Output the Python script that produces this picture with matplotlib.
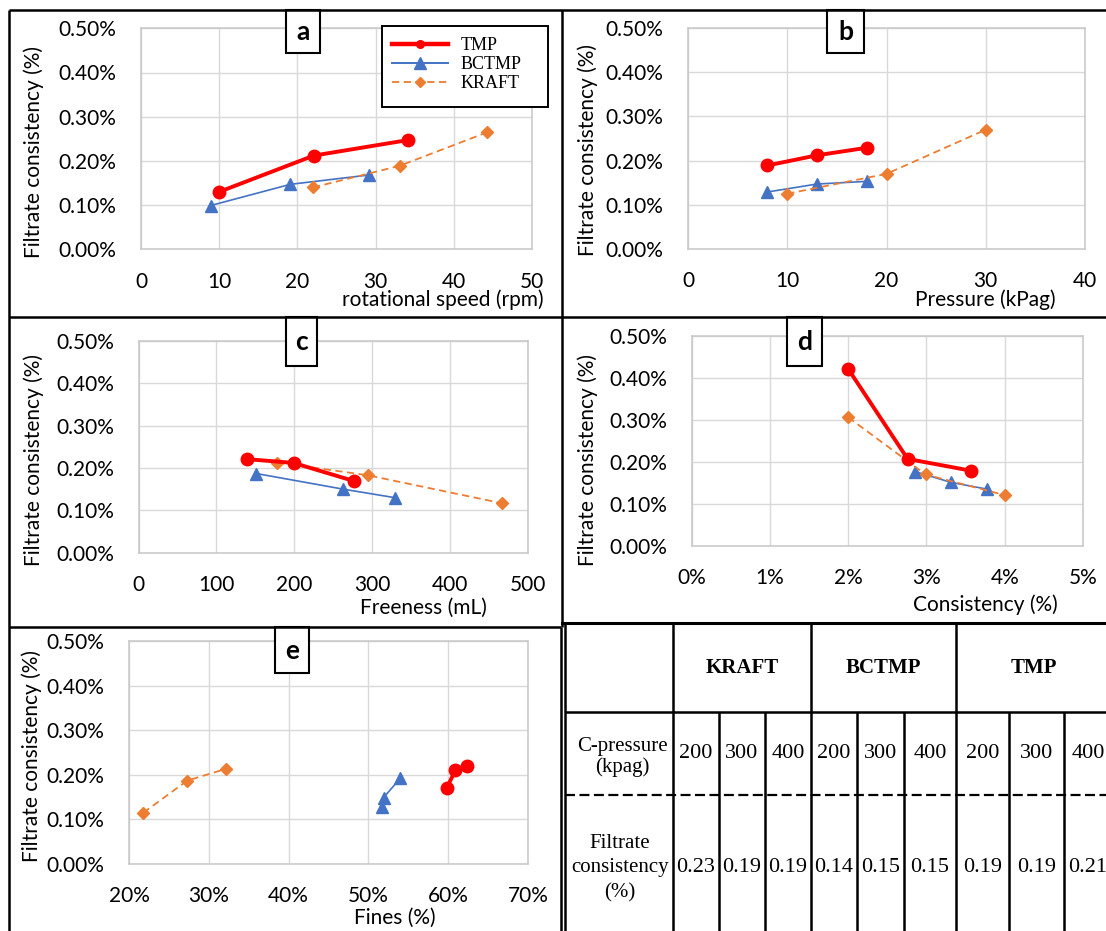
import matplotlib
matplotlib.use("Agg")
import matplotlib.pyplot as plt
from matplotlib.ticker import PercentFormatter, MultipleLocator
from matplotlib.lines import Line2D
from matplotlib.patches import Rectangle

plt.rcParams["font.family"] = ["Lato", "DejaVu Sans"]

W, H = 1106, 931

# values, filtrate consistency in %
# a - rotational speed (rpm)
speed_tmp = [10.0, 22.1, 34.1]
speed_bctmp = [8.9, 19.1, 29.1]
speed_kraft = [22.0, 33.1, 44.3]
fc_speed_tmp = [0.130, 0.212, 0.247]
fc_speed_bctmp = [0.099, 0.147, 0.168]
fc_speed_kraft = [0.140, 0.189, 0.265]

# b - pressure (kPag)
press_tmp = [8, 13, 18]
press_bctmp = [8, 13, 18]
press_kraft = [10, 20, 30]
fc_press_tmp = [0.189, 0.212, 0.229]
fc_press_bctmp = [0.129, 0.147, 0.153]
fc_press_kraft = [0.125, 0.170, 0.270]

# c - freeness (mL)
free_tmp = [139, 199, 277]
free_bctmp = [151, 263, 329]
free_kraft = [178, 294, 466]
fc_free_tmp = [0.221, 0.212, 0.169]
fc_free_bctmp = [0.187, 0.150, 0.130]
fc_free_kraft = [0.213, 0.183, 0.117]

# d - consistency (%)
cons_tmp = [2.0, 2.76, 3.57]
cons_bctmp = [2.85, 3.32, 3.78]
cons_kraft = [2.0, 2.99, 4.0]
fc_cons_tmp = [0.421, 0.207, 0.179]
fc_cons_bctmp = [0.177, 0.151, 0.135]
fc_cons_kraft = [0.306, 0.170, 0.121]

# e - fines (%)
fines_tmp = [59.8, 60.9, 62.4]
fines_bctmp = [51.7, 51.9, 54.0]
fines_kraft = [21.8, 27.3, 32.1]
fc_fines_tmp = [0.170, 0.210, 0.219]
fc_fines_bctmp = [0.128, 0.149, 0.192]
fc_fines_kraft = [0.115, 0.187, 0.213]

# table
pulps = ["KRAFT", "BCTMP", "TMP"]
c_pressures = ["200", "300", "400"]
table_fc = [["0.23", "0.19", "0.19"],
            ["0.14", "0.15", "0.15"],
            ["0.19", "0.19", "0.21"]]

tmp_style = dict(color="#ff0000", lw=2.8, marker="o", ms=9, zorder=4)
bctmp_style = dict(color="#4472c4", lw=1.2, marker="^", ms=9, zorder=2)
kraft_style = dict(color="#ed7d31", lw=1.3, marker="D", ms=5.8, dashes=(4, 2.5), zorder=3)

fig = plt.figure(figsize=(W / 100, H / 100), dpi=100)


def px_axes(left, top, right, bottom):
    return fig.add_axes([left / W, 1 - bottom / H, (right - left) / W, (bottom - top) / H])


def setup(ax, xlim, xstep, xlabel, xlab_pos, ylab_pos, xfmt=None):
    ax.set_xlim(*xlim)
    ax.set_ylim(0, 0.5)
    ax.xaxis.set_major_locator(MultipleLocator(xstep))
    ax.yaxis.set_major_locator(MultipleLocator(0.1))
    ax.yaxis.set_major_formatter(PercentFormatter(100, decimals=2))
    if xfmt is not None:
        ax.xaxis.set_major_formatter(xfmt)
    ax.grid(True, color="#d9d9d9", lw=1)
    ax.set_axisbelow(True)
    for s in ax.spines.values():
        s.set_color("#c8c8c8")
        s.set_linewidth(1.1)
    ax.tick_params(axis="both", length=0, labelsize=15, colors="black")
    ax.tick_params(axis="x", pad=16)
    ax.tick_params(axis="y", pad=17.5)
    ax.set_xlabel(xlabel, fontsize=15)
    ax.set_ylabel("Filtrate consistency (%)", fontsize=15)
    ax.xaxis.set_label_coords(xlab_pos[0] / W, 1 - xlab_pos[1] / H, transform=fig.transFigure)
    ax.yaxis.set_label_coords(ylab_pos[0] / W, 1 - ylab_pos[1] / H, transform=fig.transFigure)
    ax.xaxis.label.set_va("center")
    ax.yaxis.label.set_va("center")


def three(ax, xt, yt, xb, yb, xk, yk):
    ax.plot(xt, yt, **tmp_style)
    ax.plot(xb, yb, **bctmp_style)
    ax.plot(xk, yk, **kraft_style)


ax_a = px_axes(141, 28.3, 532, 249.3)
three(ax_a, speed_tmp, fc_speed_tmp, speed_bctmp, fc_speed_bctmp, speed_kraft, fc_speed_kraft)
setup(ax_a, (0, 50), 10, "rotational speed (rpm)", (443, 300), (34, 152))

ax_b = px_axes(688, 28, 1085, 249)
three(ax_b, press_tmp, fc_press_tmp, press_bctmp, fc_press_bctmp, press_kraft, fc_press_kraft)
setup(ax_b, (0, 40), 10, "Pressure (kPag)", (985, 300), (588, 150))

ax_c = px_axes(138.6, 341, 528, 552.7)
three(ax_c, free_tmp, fc_free_tmp, free_bctmp, fc_free_bctmp, free_kraft, fc_free_kraft)
setup(ax_c, (0, 500), 100, "Freeness (mL)", (423, 608), (34, 460))

ax_d = px_axes(691.6, 335.7, 1083, 546)
three(ax_d, cons_tmp, fc_cons_tmp, cons_bctmp, fc_cons_bctmp, cons_kraft, fc_cons_kraft)
setup(ax_d, (0, 5), 1, "Consistency (%)", (985, 605), (588, 460),
      xfmt=PercentFormatter(100, decimals=0))

ax_e = px_axes(129, 641, 528, 864)
three(ax_e, fines_tmp, fc_fines_tmp, fines_bctmp, fc_fines_bctmp, fines_kraft, fc_fines_kraft)
setup(ax_e, (20, 70), 10, "Fines (%)", (395, 918), (32, 756),
      xfmt=PercentFormatter(100, decimals=0))

# legend in panel a, boxed like the excel one
leg_box = Rectangle((382 / W, 1 - 107 / H), (548 - 382) / W, (107 - 26) / H,
                    transform=fig.transFigure, facecolor="white", edgecolor="black",
                    lw=1.4, zorder=5, clip_on=False)
ax_a.add_patch(leg_box)
handles = [
    Line2D([], [], color="#ff0000", lw=3.2, marker="o", ms=5.5),
    Line2D([], [], color="#4472c4", lw=1.4, marker="^", ms=8),
    Line2D([], [], color="#ed7d31", lw=1.3, marker="D", ms=5.5, dashes=(4, 2.5)),
]
leg = ax_a.legend(handles, ["TMP", "BCTMP", "KRAFT"], loc="upper left",
                  bbox_to_anchor=(382 / W, 1 - 27 / H), bbox_transform=fig.transFigure,
                  borderaxespad=0, frameon=False, prop=dict(family="Liberation Serif", size=13),
                  handlelength=3.1, handletextpad=0.7, labelspacing=0.12, borderpad=0.55)
leg.set_zorder(6)

# overlay in pixel coordinates for frames, letter boxes and the table
ov = fig.add_axes([0, 0, 1, 1], zorder=10)
ov.set_xlim(0, W)
ov.set_ylim(H, 0)
ov.axis("off")

k = dict(color="black", lw=1.8, solid_capstyle="butt")
ov.plot([8.6, W], [10, 10], **k)
ov.plot([8.6, W], [317, 317], **k)
ov.plot([8.6, 560.5], [626.5, 626.5], **k)
ov.plot([562, W], [623, 623], color="black", lw=2.2)
ov.plot([8.6, 8.6], [10, H], **k)
ov.plot([562, 562], [10, 626.5], **k)
ov.plot([560.5, 560.5], [626.5, H], **k)
ov.plot([565, 565], [623, H], **k)

letters = ["a", "b", "c", "d", "e"]
letter_boxes = [(286, 10, 320, 53), (827, 10, 864, 53), (286, 317, 317, 366),
                (787, 317, 822, 366), (274.6, 626.5, 309, 673)]
for lab, (x0, y0, x1, y1) in zip(letters, letter_boxes):
    ov.add_patch(Rectangle((x0, y0), x1 - x0, y1 - y0, facecolor="white",
                           edgecolor="black", lw=1.5))
    ov.text((x0 + x1) / 2, (y0 + y1) / 2 + 1, lab, ha="center", va="center",
            fontsize=19, fontweight="bold")

# table grid
main_cols = [673, 811, 956]
sub_cols = [719, 765, 857, 904, 1009, 1064]
cells = [673, 719, 765, 811, 857, 904, 956, 1009, 1064, 1112]
for x in main_cols:
    ov.plot([x, x], [623, H], **k)
for x in sub_cols:
    ov.plot([x, x], [712, H], **k)
ov.plot([565, W], [712, 712], **k)
ov.plot([565, W], [795, 795], color="black", lw=1.6, dashes=(4.5, 2))

serif = "Liberation Serif"
group_edges = [673, 811, 956, 1112]
for i, p in enumerate(pulps):
    ov.text((group_edges[i] + group_edges[i + 1]) / 2, 668, p, ha="center", va="center",
            fontsize=15, fontweight="bold", family=serif)
ov.text(622, 757, "C-pressure\n(kpag)", ha="center", va="center", fontsize=15,
        family=serif, linespacing=1.15)
ov.text(620, 868, "Filtrate\nconsistency\n(%)", ha="center", va="center", fontsize=15,
        family=serif, linespacing=1.4)
for g in range(3):
    for j in range(3):
        c = g * 3 + j
        xc = (cells[c] + cells[c + 1]) / 2
        ov.text(xc, 754, c_pressures[j], ha="center", va="center", fontsize=16, family=serif)
        ov.text(xc, 867, table_fc[g][j], ha="center", va="center", fontsize=16, family=serif)

fig.savefig("out.png", dpi=100)
